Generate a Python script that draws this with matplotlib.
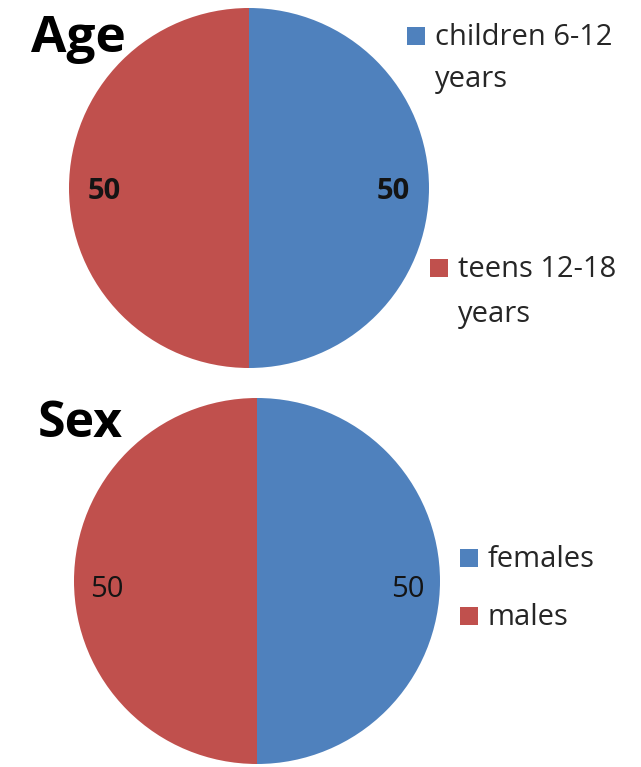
import matplotlib.pyplot as plt
from matplotlib.patches import Rectangle

# group shares
age_labels = ["children 6-12\nyears", "teens 12-18\nyears"]
age_values = [50, 50]
sex_labels = ["females", "males"]
sex_values = [50, 50]

blue = "#4F81BD"
red = "#C0504D"
colors = [blue, red]

W, H = 641, 767
plt.rcParams['font.family'] = ['Open Sans', 'DejaVu Sans']
fig = plt.figure(figsize=(W / 100, H / 100), dpi=100)
fig.patch.set_facecolor("white")


def px_axes(cx, cy, r):
    # axes box in pixel terms, centred on the pie
    return fig.add_axes([(cx - r) / W, 1 - (cy + r) / H, 2 * r / W, 2 * r / H])


def draw_pie(ax, values, dist, weight, size, drop):
    wedges, texts = ax.pie(values, colors=colors, startangle=90, counterclock=False,
                           radius=1.0, labels=[str(v) for v in values],
                           labeldistance=dist,
                           textprops=dict(fontsize=size, fontweight=weight,
                                          color="#141414"),
                           wedgeprops=dict(linewidth=0))
    # value labels sit a little under the centre line
    for t in texts:
        x, y = t.get_position()
        t.set_position((x, y - drop))
    ax.set_xlim(-1, 1)
    ax.set_ylim(-1, 1)
    ax.set_aspect("equal")
    return wedges, texts


# Age pie
ax1 = px_axes(249, 188, 180)
draw_pie(ax1, age_values, 0.71, "bold", 21, 0.02)

# Sex pie
ax2 = px_axes(257, 581, 183)
draw_pie(ax2, sex_values, 0.73, "medium", 21, 0.045)

# titles
fig.text(31 / W, 1 - 52 / H, "Age", fontsize=37, fontweight="bold",
         color="black", va="baseline")
fig.text(38 / W, 1 - 437 / H, "Sex", fontsize=36, fontweight="bold",
         color="black", va="baseline")


def legend_item(x, base, label, color, gap=42):
    # square marker sitting on the first line's baseline
    s = 18
    fig.patches.append(Rectangle((x / W, 1 - base / H), s / W, s / H,
                                 transform=fig.transFigure, facecolor=color,
                                 edgecolor="none", figure=fig))
    for i, line in enumerate(label.split("\n")):
        fig.text((x + s + 10) / W, 1 - (base + i * gap) / H, line, fontsize=21,
                 color="#262626", va="baseline", ha="left")


legend_item(407, 45, age_labels[0], colors[0], gap=42)
legend_item(430, 277, age_labels[1], colors[1], gap=45)
legend_item(460, 567, sex_labels[0], colors[0])
legend_item(460, 625, sex_labels[1], colors[1])

fig.savefig("out.png", dpi=100, facecolor="white")
